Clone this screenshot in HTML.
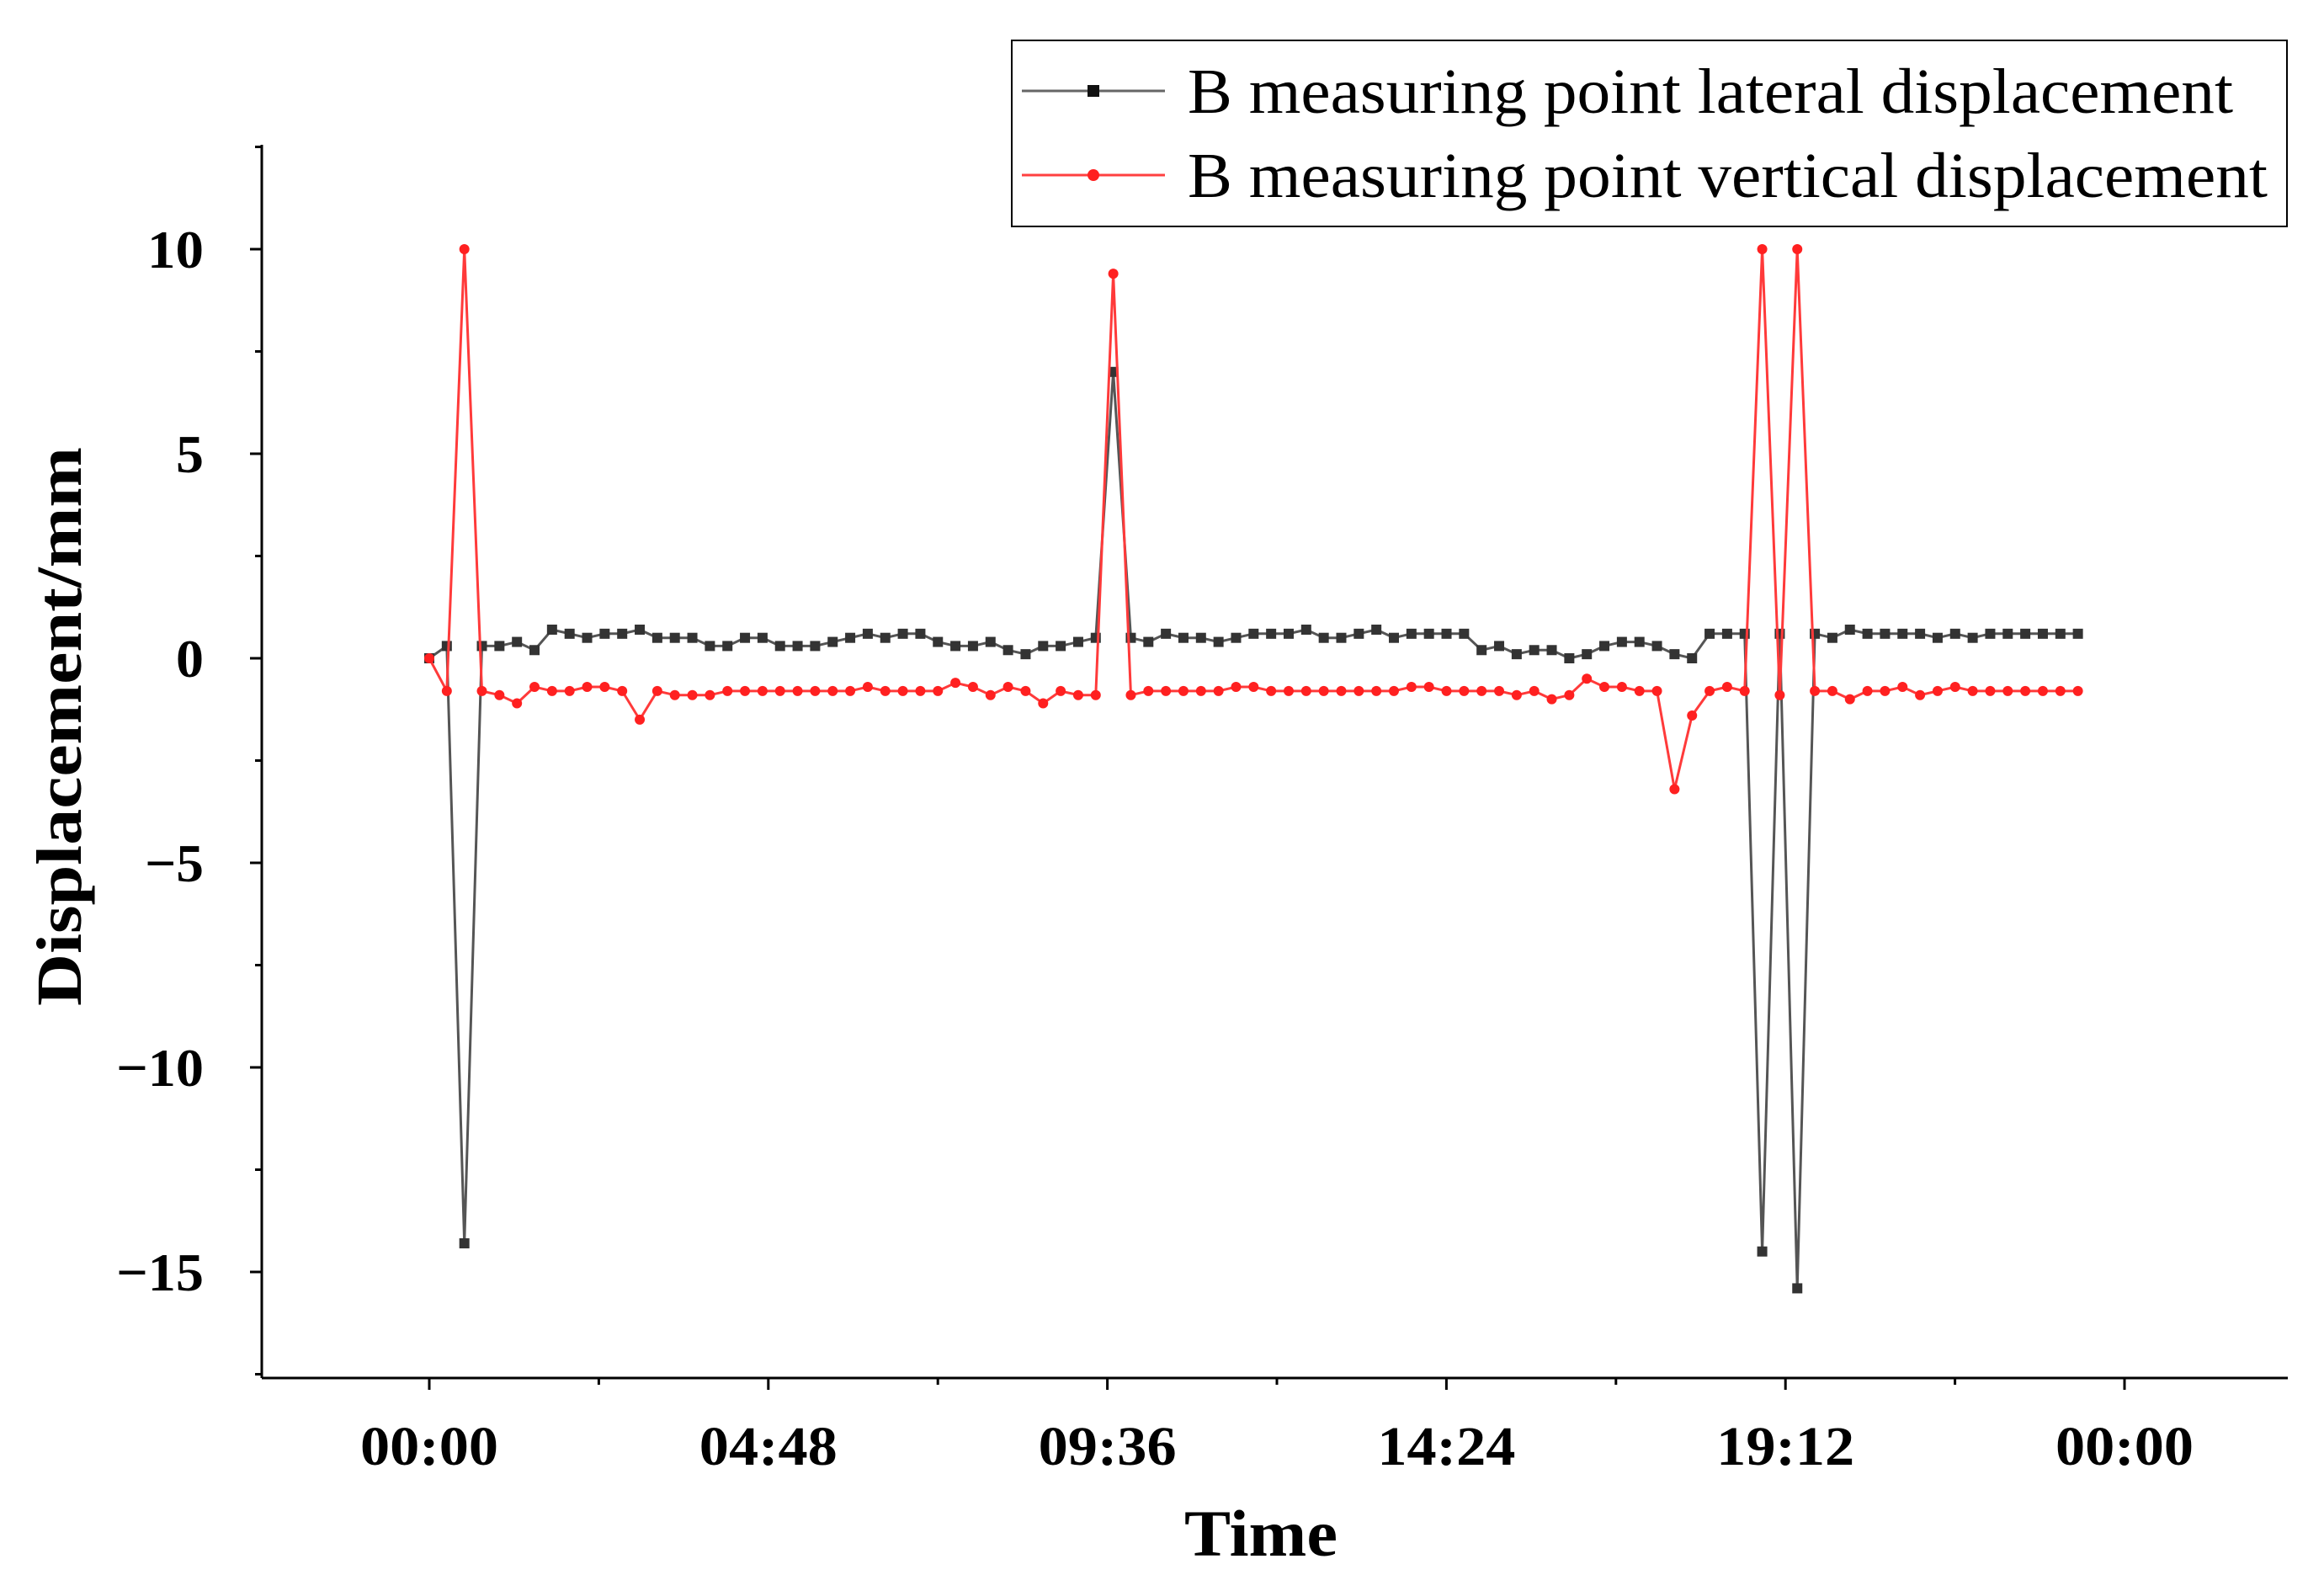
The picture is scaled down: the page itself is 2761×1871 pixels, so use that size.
<!DOCTYPE html>
<html><head><meta charset="utf-8"><style>
html,body{margin:0;padding:0;background:#fff;}
svg{display:block;}
text{font-family:"Liberation Serif",serif;}
</style></head><body>
<svg id="chart" width="2761" height="1871" viewBox="0 0 2761 1871" xmlns="http://www.w3.org/2000/svg">
<g id="axes"></g>
<g id="series"></g>
<g id="legend">
<rect x="1202" y="48" width="1515" height="221" fill="#fff" stroke="#000" stroke-width="2"/>
<g>
<line x1="1214" y1="108" x2="1384" y2="108" stroke="#666" stroke-width="3"/>
<rect x="1292" y="101" width="14" height="14" fill="#111"/>
<text x="1411" y="134" font-size="76" fill="#000" textLength="1242" lengthAdjust="spacingAndGlyphs">B measuring point lateral displacement</text>
</g>
<g>
<line x1="1214" y1="208" x2="1384" y2="208" stroke="#ff4040" stroke-width="3"/>
<circle cx="1299" cy="208" r="7" fill="#ff2020"/>
<text x="1411" y="234" font-size="76" fill="#000" textLength="1283" lengthAdjust="spacingAndGlyphs">B measuring point vertical displacement</text>
</g>
</g>
</svg>
<script>
const lateral = [0,0.3,-14.3,0.3,0.3,0.4,0.2,0.7,0.6,0.5,0.6,0.6,0.7,0.5,0.5,0.5,0.3,0.3,0.5,0.5,0.3,0.3,0.3,0.4,0.5,0.6,0.5,0.6,0.6,0.4,0.3,0.3,0.4,0.2,0.1,0.3,0.3,0.4,0.5,7,0.5,0.4,0.6,0.5,0.5,0.4,0.5,0.6,0.6,0.6,0.7,0.5,0.5,0.6,0.7,0.5,0.6,0.6,0.6,0.6,0.2,0.3,0.1,0.2,0.2,0.0,0.1,0.3,0.4,0.4,0.3,0.1,0.0,0.6,0.6,0.6,-14.5,0.6,-15.4,0.6,0.5,0.7,0.6,0.6,0.6,0.6,0.5,0.6,0.5,0.6,0.6,0.6,0.6,0.6,0.6];
const vertical = [0,-0.8,10,-0.8,-0.9,-1.1,-0.7,-0.8,-0.8,-0.7,-0.7,-0.8,-1.5,-0.8,-0.9,-0.9,-0.9,-0.8,-0.8,-0.8,-0.8,-0.8,-0.8,-0.8,-0.8,-0.7,-0.8,-0.8,-0.8,-0.8,-0.6,-0.7,-0.9,-0.7,-0.8,-1.1,-0.8,-0.9,-0.9,9.4,-0.9,-0.8,-0.8,-0.8,-0.8,-0.8,-0.7,-0.7,-0.8,-0.8,-0.8,-0.8,-0.8,-0.8,-0.8,-0.8,-0.7,-0.7,-0.8,-0.8,-0.8,-0.8,-0.9,-0.8,-1.0,-0.9,-0.5,-0.7,-0.7,-0.8,-0.8,-3.2,-1.4,-0.8,-0.7,-0.8,10,-0.9,10,-0.8,-0.8,-1.0,-0.8,-0.8,-0.7,-0.9,-0.8,-0.7,-0.8,-0.8,-0.8,-0.8,-0.8,-0.8,-0.8];
const stepHours = 0.2483;
const yTicks = [10,5,0,-5,-10,-15];
const yTickLabels = ["10","5","0","\u22125","\u221210","\u221215"];
const xTickHours = [0,4.8,9.6,14.4,19.2,24];
const xTickLabels = ["00:00","04:48","09:36","14:24","19:12","00:00"];

const NS="http://www.w3.org/2000/svg";
const X0=311, XEND=2718, YTOP=172, YBOT=1637;
function xs(h){return 510 + h*(2524-510)/24;}
function ys(v){return 782 - v*48.6;}
function mk(tag,attrs,parent){const e=document.createElementNS(NS,tag);for(const k in attrs)e.setAttribute(k,attrs[k]);parent.appendChild(e);return e;}
const axes=document.getElementById('axes');
let e=mk('line',{x1:X0,y1:YTOP,x2:X0,y2:YBOT,stroke:'#000','stroke-width':3},axes);


e=mk('line',{x1:X0,y1:YBOT,x2:XEND,y2:YBOT,stroke:'#000','stroke-width':3},axes);


for(let v=-17.5; v<=12.5; v+=2.5){
  const major = Math.abs(v%5)<1e-6;
  e=mk('line',{x1:X0-(major?14:8),y1:ys(v),x2:X0,y2:ys(v),stroke:'#000','stroke-width':3},axes);
  
  
}
yTicks.forEach((v,i)=>{
  const lab=yTickLabels[i];
  const w = lab.length===1?33:(lab.length===2?(lab[0]==='\u2212'?70:67):104);
  const t=mk('text',{x:242,y:ys(v)+22,'font-size':64,'font-weight':'bold','text-anchor':'end',textLength:w,lengthAdjust:'spacingAndGlyphs'},axes);
  t.textContent=lab;
  
  
});
for(let h=-4.8; h<=28.8; h+=2.4){
  const x=xs(h); if(x<X0-1||x>XEND+1) continue;
  const major=Math.abs(Math.round(h/4.8)*4.8-h)<1e-6;
  e=mk('line',{x1:x,y1:YBOT,x2:x,y2:YBOT+(major?14:8),stroke:'#000','stroke-width':3},axes);
  
  
}
xTickHours.forEach((h,i)=>{
  const t=mk('text',{x:xs(h),y:1740,'font-size':66,'font-weight':'bold','text-anchor':'middle',textLength:164,lengthAdjust:'spacingAndGlyphs'},axes);
  t.textContent=xTickLabels[i];
  
  
});
let t=mk('text',{x:1498,y:1848,'font-size':78,'font-weight':'bold','text-anchor':'middle',textLength:182,lengthAdjust:'spacingAndGlyphs'},axes);
t.textContent='Time';


t=mk('text',{x:0,y:0,'font-size':76,'font-weight':'bold','text-anchor':'middle',textLength:664,lengthAdjust:'spacingAndGlyphs',transform:'translate(96,863) rotate(-90)'},axes);
t.textContent='Displacement/mm';



const series=document.getElementById('series');
function draw(vals,color,lineColor,name,square){
  const pts=vals.map((v,i)=>xs(i*stepHours).toFixed(1)+','+ys(v).toFixed(1)).join(' ');
  const pl=mk('polyline',{points:pts,fill:'none',stroke:lineColor,'stroke-width':3,'stroke-linejoin':'round'},series);
  
  
  vals.forEach((v,i)=>{
    const x=xs(i*stepHours), y=ys(v);
    let m;
    if(square) m=mk('rect',{x:x-6,y:y-6,width:12,height:12,fill:color},series);
    else m=mk('circle',{cx:x,cy:y,r:6,fill:color},series);
    
    
  });
}
draw(lateral,'#333','#555','lateral',true);
draw(vertical,'#ff2020','#ff3a3a','vertical',false);
</script>
</body></html>
